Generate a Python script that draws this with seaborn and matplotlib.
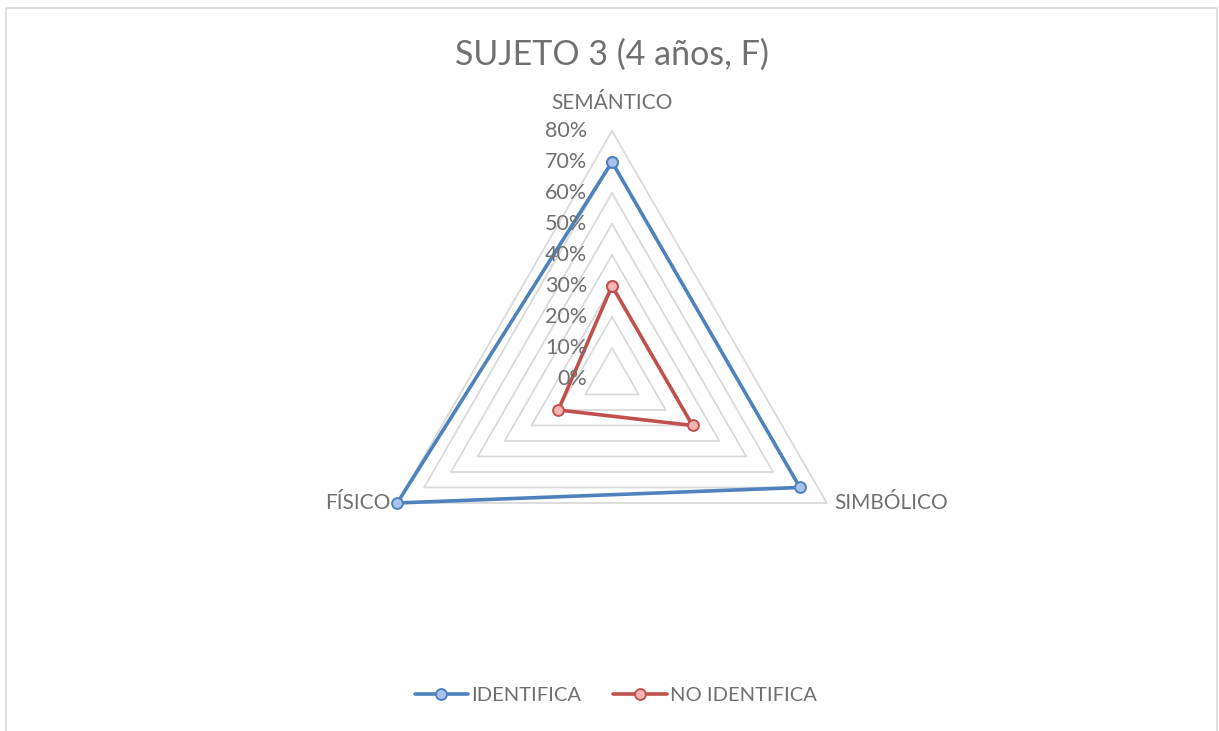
import numpy as np
import matplotlib
matplotlib.use("Agg")
import matplotlib.pyplot as plt
import seaborn as sns
from matplotlib.lines import Line2D
from matplotlib.patches import Rectangle
from matplotlib.transforms import offset_copy

# data
categories = ["SEMÁNTICO", "SIMBÓLICO", "FÍSICO"]
identifica = [0.70, 0.70, 0.80]
no_identifica = [0.30, 0.30, 0.20]
grid_levels = [0.1, 0.2, 0.3, 0.4, 0.5, 0.6, 0.7, 0.8]
tick_levels = [0.0, 0.1, 0.2, 0.3, 0.4, 0.5, 0.6, 0.7, 0.8]
tick_labels = ["0%", "10%", "20%", "30%", "40%", "50%", "60%", "70%", "80%"]
title = "SUJETO 3 (4 años, F)"

series = [
    ("IDENTIFICA", identifica, "#4F81BD", "#A9C3EA"),
    ("NO IDENTIFICA", no_identifica, "#C0504D", "#F4B4B2"),
]

sns.set_theme(style="white")
plt.rcParams["font.family"] = ["Lato", "DejaVu Sans"]
text_color = "#707070"

fig = plt.figure(figsize=(12.19, 7.31), dpi=100)
ax = fig.add_axes([0.2986, 0.1423, 0.4069, 0.6785], projection="polar")
ax.set_theta_offset(np.pi / 2)
ax.set_theta_direction(-1)
ax.set_ylim(0, 0.8)
ax.grid(False)
ax.spines["polar"].set_visible(False)
ax.set_xticks([])
ax.set_yticks([])
ax.set_facecolor("none")

angles = np.linspace(0, 2 * np.pi, len(categories), endpoint=False)
closed = np.append(angles, angles[0] + 2 * np.pi)

# triangular gridlines
for lvl in grid_levels:
    ax.plot(closed, [lvl] * len(closed), color="#D9D9D9", lw=1.3, zorder=1,
            clip_on=False)

# series
for name, vals, col, fill in series:
    sns.lineplot(x=closed, y=vals + vals[:1], ax=ax, sort=False, color=col,
                 lw=2.6, marker="o", markersize=7.8, markerfacecolor=fill,
                 markeredgecolor=col, markeredgewidth=1.4, zorder=3,
                 clip_on=False)

# radial tick labels
lab_tr = offset_copy(ax.transData, fig=fig, x=-25, y=0, units="dots")
for lvl, lab in zip(tick_levels, tick_labels):
    ax.text(0, lvl, lab, transform=lab_tr, ha="right", va="center",
            fontsize=15.5, color=text_color)

# category labels
cat_offsets = [(0, 28, "center", "center"), (7, 0, "left", "center"),
               (-7, 0, "right", "center")]
for ang, cat, (dx, dy, ha, va) in zip(angles, categories, cat_offsets):
    tr = offset_copy(ax.transData, fig=fig, x=dx, y=dy, units="dots")
    ax.text(ang, 0.8, cat, transform=tr, ha=ha, va=va, fontsize=15,
            color=text_color)

fig.text(0.5017, 0.925, title, ha="center", va="center", fontsize=24.5,
         color=text_color)

handles = [Line2D([], [], color=col, lw=2.6, marker="o", markersize=7.8,
                  markerfacecolor=fill, markeredgecolor=col,
                  markeredgewidth=1.4) for _, _, col, fill in series]
leg = fig.legend(handles, [s[0] for s in series], loc="center",
                 bbox_to_anchor=(0.505, 0.048), ncol=2, frameon=False,
                 fontsize=14.5, handlelength=2.65, columnspacing=1.6,
                 handletextpad=0.15)
for t in leg.get_texts():
    t.set_color(text_color)

fig.patches.append(Rectangle((0.0049, -0.05), 0.9935, 1.039,
                             transform=fig.transFigure, fill=False,
                             edgecolor="#D9D9D9", lw=1.2))

fig.savefig("out.png", dpi=100, facecolor="white")
